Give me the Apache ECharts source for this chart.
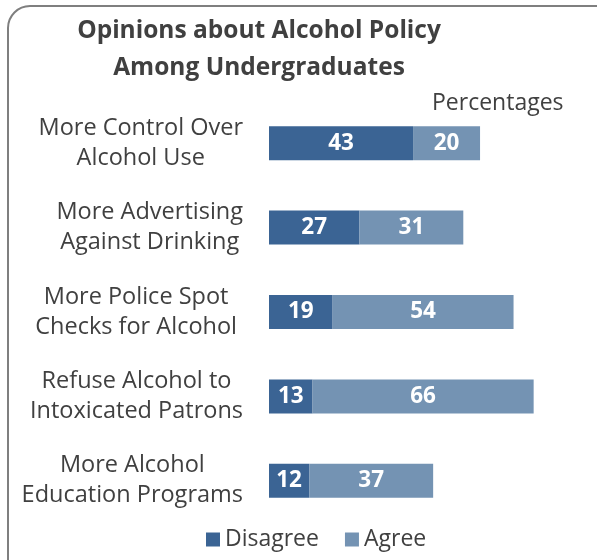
<!DOCTYPE html>
<html><head><meta charset="utf-8">
<script src="https://cdn.jsdelivr.net/npm/echarts@6/dist/echarts.min.js"></script>
<style>html,body{margin:0;padding:0;background:#fff}#c{width:597px;height:560px}</style>
</head><body><div id="c"></div>
<script>
const categories = ["More Control Over\nAlcohol Use","More Advertising\nAgainst Drinking","More Police Spot\nChecks for Alcohol","Refuse Alcohol to\nIntoxicated Patrons","More Alcohol\nEducation Programs"];
const disagree = [43,27,19,13,12];
const agree = [20,31,54,66,37];
const font = "Open Sans";
// per-label right inset (style only)
const labelInset = [0,0,6,0,0];
const rich = {};
labelInset.forEach((p,i)=>{ rich['c'+i] = {align:'center',fontFamily:font,fontSize:23.5,color:'#404040',lineHeight:30,padding:[0,p,0,0]}; });
const chart = echarts.init(document.getElementById('c'));
chart.setOption({
  animation:false,
  textStyle:{fontFamily:font},
  graphic:[{type:'rect',shape:{x:8,y:6,width:620,height:600,r:22},style:{fill:'none',stroke:'#7f7f7f',lineWidth:2},z:-1}],
  title:[{text:'Opinions about Alcohol Policy\nAmong Undergraduates',left:254,textAlign:'center',top:8,
    textStyle:{fontFamily:font,fontSize:24.5,fontWeight:'bold',color:'#404040',lineHeight:37}},
    {text:'Percentages',left:427,top:87,textStyle:{fontFamily:font,fontSize:23,fontWeight:'normal',color:'#404040'}}],
  legend:{bottom:4,left:201,itemWidth:14,itemHeight:14,itemGap:26,icon:'rect',
    textStyle:{fontFamily:font,fontSize:23,color:'#404040'},data:['Disagree','Agree']},
  grid:{left:269,top:101,height:422,width:301.5},
  xAxis:{type:'value',min:0,max:90,show:false},
  yAxis:{type:'category',data:categories,inverse:true,axisLine:{show:false},axisTick:{show:false},
    axisLabel:{fontFamily:font,fontSize:23,color:'#404040',lineHeight:30,margin:26,align:'right',
      formatter:(v,i)=>v.split('\n').map(s=>'{c'+i+'|'+s+'}').join('\n'),
      rich:rich}},
  series:[
    {name:'Disagree',type:'bar',stack:'a',data:disagree,barWidth:34,itemStyle:{color:'#3b6494'},
     label:{show:true,position:'inside',color:'#fff',fontFamily:font,fontSize:22.5,fontWeight:'bold'}},
    {name:'Agree',type:'bar',stack:'a',data:agree,barWidth:34,itemStyle:{color:'#7493b3'},
     label:{show:true,position:'inside',color:'#fff',fontFamily:font,fontSize:22.5,fontWeight:'bold'}}
  ]
});
</script></body></html>
